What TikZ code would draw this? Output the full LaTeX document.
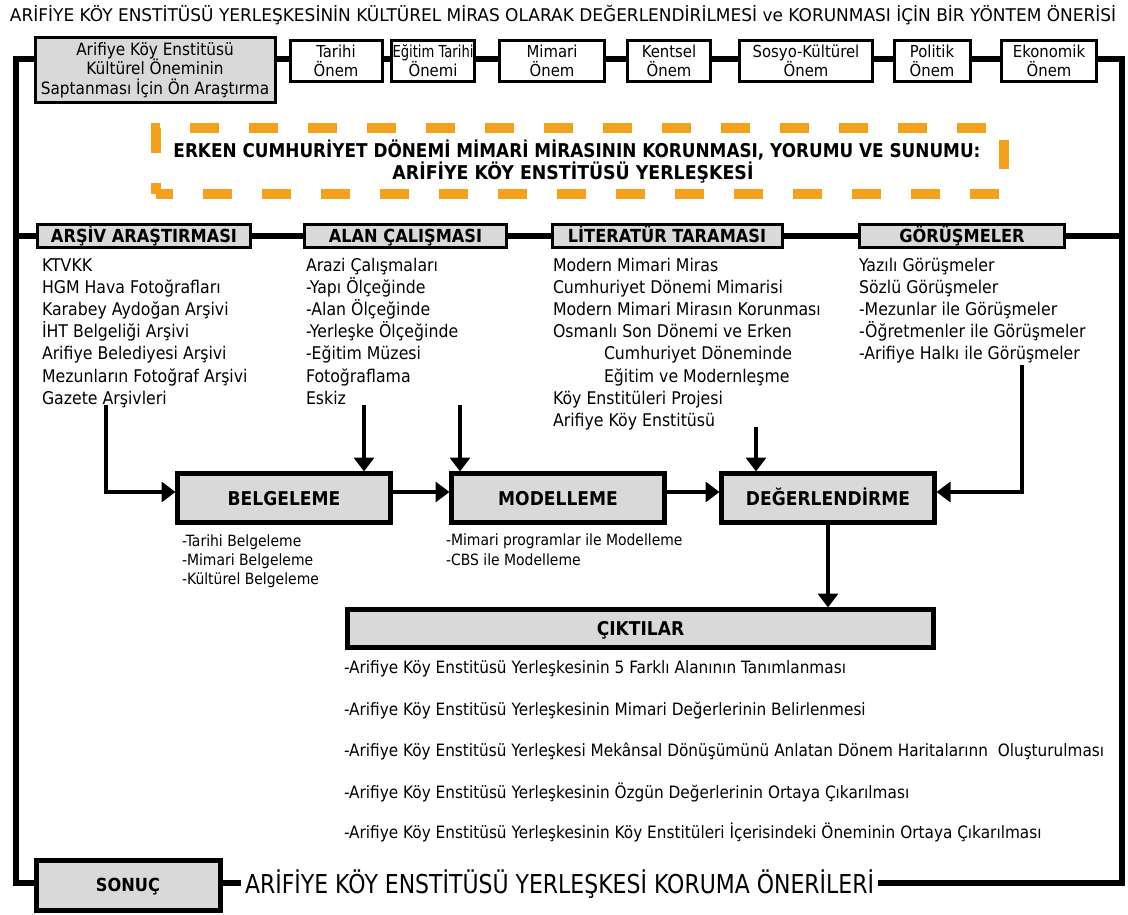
\documentclass[tikz,border=0pt]{standalone}
\usepackage{fontspec}
\setmainfont{DejaVu Sans}[FakeStretch=0.9]
\usepackage{graphicx}
\usetikzlibrary{arrows.meta}
\definecolor{boxgray}{RGB}{217,217,217}
\definecolor{dashorange}{RGB}{246,161,27}
\newcommand{\fitw}[2]{\resizebox{#1}{\height}{#2}}
\newcommand{\fs}[1]{\fontsize{#1}{#1}\selectfont}
\newcommand{\fsl}[2]{\fontsize{#1}{#2}\selectfont}
\begin{document}
\begin{tikzpicture}[x=1pt,y=-1pt,
  every node/.style={inner sep=0pt, outer sep=0pt},
  frame/.style={line width=6.5pt, line join=miter},
  arr/.style={line width=3.5pt, line join=miter, shorten >=2pt, -{Triangle[length=14pt,width=20pt]}},
  topbox/.style={draw, line width=3pt, fill=white, align=center, font=\fsl{16.5}{19}, minimum height=41pt},
  hdrbox/.style={draw, line width=3pt, fill=boxgray, font=\bfseries\fs{18}, minimum height=23pt, text height=16pt, text depth=2pt},
  bigbox/.style={draw, line width=5pt, fill=boxgray, font=\bfseries\fs{19}, minimum width=213pt, minimum height=49pt, text height=14pt, text depth=0pt},
  item/.style={anchor=base west, font=\fs{17.5}},
  subitem/.style={anchor=base west, font=\fs{15.5}},
  outitem/.style={anchor=base west, font=\fs{17}},
  dashbox/.style={draw=dashorange, line width=10pt, dash pattern=on 29pt off 30pt, dash phase=12pt},
]
\useasboundingbox (0,0) rectangle (1128,915);
\fill[white] (0,0) rectangle (1128,915);

% title
\node[anchor=base, font=\fs{17.5}] (title) at (563,22) {\fitw{1106pt}{ARİFİYE KÖY ENSTİTÜSÜ YERLEŞKESİNİN KÜLTÜREL MİRAS OLARAK DEĞERLENDİRİLMESİ ve KORUNMASI İÇİN BİR YÖNTEM ÖNERİSİ}};

% frame coordinates
\coordinate (tl) at (16,59);
\coordinate (tr) at (1122,59);
\coordinate (hl) at (16,236);
\coordinate (hr) at (1122,236);
\coordinate (bl) at (16,883);
\coordinate (br) at (1122,883);

% top row
\node[topbox, fill=boxgray, minimum width=240pt, minimum height=65pt, font=\fsl{17}{19.5}] (b1) at (155,70) {Arifiye Köy Enstitüsü\\Kültürel Öneminin\\Saptanması İçin Ön Araştırma};
\node[topbox, minimum width=92pt] (tar) at (336,61) {Tarihi\\Önem};
\node[topbox, minimum width=83pt] (egt) at (433,61) {\fitw{81pt}{Eğitim Tarihi}\\Önemi};
\node[topbox, minimum width=105pt] (mim) at (552,61) {Mimari\\Önem};
\node[topbox, minimum width=83pt] (ken) at (669,61) {Kentsel\\Önem};
\node[topbox, minimum width=133pt] (sos) at (806,61) {Sosyo-Kültürel\\Önem};
\node[topbox, minimum width=76pt] (pol) at (932,61) {Politik\\Önem};
\node[topbox, minimum width=95pt] (eko) at (1049,61) {Ekonomik\\Önem};

% dashed theme box
\node[dashbox, minimum width=848pt, minimum height=66pt] (theme) at (580,161) {};
\node[anchor=base, font=\bfseries\fs{19}] (t1) at (577,158) {\fitw{807pt}{ERKEN CUMHURİYET DÖNEMİ MİMARİ MİRASININ KORUNMASI, YORUMU VE SUNUMU:}};
\node[anchor=base, font=\bfseries\fs{19}] (t2) at (573,180) {\fitw{361pt}{ARİFİYE KÖY ENSTİTÜSÜ YERLEŞKESİ}};

% header row
\node[hdrbox, minimum width=213pt] (ars) at (144,236) {ARŞİV ARAŞTIRMASI};
\node[hdrbox, minimum width=202pt] (alan) at (405.5,236) {ALAN ÇALIŞMASI};
\node[hdrbox, minimum width=230pt] (lit) at (667,236) {LİTERATÜR TARAMASI};
\node[hdrbox, minimum width=205pt] (gor) at (962,236) {GÖRÜŞMELER};

% lists
\foreach \t [count=\i] in {KTVKK, HGM Hava Fotoğrafları, Karabey Aydoğan Arşivi, İHT Belgeliği Arşivi, Arifiye Belediyesi Arşivi, Mezunların Fotoğraf Arşivi, Gazete Arşivleri}
  \node[item] (ca\i) at (42,{271+22.2*(\i-1)}) {\t};
\foreach \t [count=\i] in {Arazi Çalışmaları, -Yapı Ölçeğinde, -Alan Ölçeğinde, -Yerleşke Ölçeğinde, -Eğitim Müzesi, Fotoğraflama, Eskiz}
  \node[item] (cb\i) at (306,{271+22.2*(\i-1)}) {\t};
\foreach \t/\xx [count=\i] in {Modern Mimari Miras/553, Cumhuriyet Dönemi Mimarisi/553, Modern Mimari Mirasın Korunması/553, Osmanlı Son Dönemi ve Erken/553, Cumhuriyet Döneminde/604, Eğitim ve Modernleşme/604, Köy Enstitüleri Projesi/553, Arifiye Köy Enstitüsü/553}
  \node[item] (cc\i) at (\xx,{271+22.2*(\i-1)}) {\t};
\foreach \t [count=\i] in {Yazılı Görüşmeler, Sözlü Görüşmeler, -Mezunlar ile Görüşmeler, -Öğretmenler ile Görüşmeler, -Arifiye Halkı ile Görüşmeler}
  \node[item] (cd\i) at (859,{271+22.2*(\i-1)}) {\t};

% process boxes
\node[bigbox] (bel) at (284,498) {BELGELEME};
\node[bigbox] (mod) at (558,498) {MODELLEME};
\node[bigbox] (deg) at (828,498) {DEĞERLENDİRME};

\node[subitem] (sb1) at (182,546) {-Tarihi Belgeleme};
\node[subitem] (sb2) at (182,565) {-Mimari Belgeleme};
\node[subitem] (sb3) at (182,584) {-Kültürel Belgeleme};
\node[subitem] (sm1) at (446,545) {-Mimari programlar ile Modelleme};
\node[subitem] (sm2) at (446,565) {-CBS ile Modelleme};

% outputs
\node[draw, line width=5pt, fill=boxgray, font=\bfseries\fs{19}, minimum width=586pt, minimum height=38pt, text height=14pt, text depth=0pt] (cik) at (640.5,628.5) {ÇIKTILAR};
\node[outitem] (o1) at (344,673) {-Arifiye Köy Enstitüsü Yerleşkesinin 5 Farklı Alanının Tanımlanması};
\node[outitem] (o2) at (344,715) {-Arifiye Köy Enstitüsü Yerleşkesinin Mimari Değerlerinin Belirlenmesi};
\node[outitem] (o3) at (344,756) {\fitw{760pt}{-Arifiye Köy Enstitüsü Yerleşkesi Mekânsal Dönüşümünü Anlatan Dönem Haritalarınn\ \ Oluşturulması}};
\node[outitem] (o4) at (344,798) {-Arifiye Köy Enstitüsü Yerleşkesinin Özgün Değerlerinin Ortaya Çıkarılması};
\node[outitem] (o5) at (344,838) {-Arifiye Köy Enstitüsü Yerleşkesinin Köy Enstitüleri İçerisindeki Öneminin Ortaya Çıkarılması};

% conclusion
\node[draw, line width=5pt, fill=boxgray, font=\bfseries\fs{18}, minimum width=184pt, minimum height=50pt, text height=13pt, text depth=0pt] (son) at (128,885) {SONUÇ};
\node[anchor=base west, inner sep=4pt, font=\fs{26}] (kor) at (241,893) {\fitw{629pt}{ARİFİYE KÖY ENSTİTÜSÜ YERLEŞKESİ KORUMA ÖNERİLERİ}};

% frame lines
\draw[frame] (b1.west |- tl) -- (tl) -- (bl) -- (son.west |- bl);
\draw[frame] (eko.east |- tr) -- (tr) -- (br) -- (kor.east |- br);
\draw[frame] (son.east |- bl) -- (kor.west |- bl);
\draw[frame] (b1.east |- tl) -- (tar.west |- tl);
\draw[frame] (tar.east |- tl) -- (egt.west |- tl);
\draw[frame] (egt.east |- tl) -- (mim.west |- tl);
\draw[frame] (mim.east |- tl) -- (ken.west |- tl);
\draw[frame] (ken.east |- tl) -- (sos.west |- tl);
\draw[frame] (sos.east |- tl) -- (pol.west |- tl);
\draw[frame] (pol.east |- tl) -- (eko.west |- tl);
\draw[frame] (hl) -- (ars.west |- hl);
\draw[frame] (ars.east |- hl) -- (alan.west |- hl);
\draw[frame] (alan.east |- hl) -- (lit.west |- hl);
\draw[frame] (lit.east |- hl) -- (gor.west |- hl);
\draw[frame] (gor.east |- hr) -- (hr);

% arrows
\coordinate (j) at (106,492);
\coordinate (s1) at (106,405);
\coordinate (s2) at (364,405);
\coordinate (s3) at (460,405);
\coordinate (s4) at (756,427);
\coordinate (s5) at (1022,365);
\draw[arr] (s1) |- (bel.west |- j);
\draw[arr] (s2) -- (s2 |- bel.north);
\draw[arr] (s3) -- (s3 |- mod.north);
\draw[arr] (s4) -- (s4 |- deg.north);
\draw[arr] (s5) |- (deg.east |- j);
\draw[arr] (bel.east |- j) -- (mod.west |- j);
\draw[arr] (mod.east |- j) -- (deg.west |- j);
\draw[arr] (deg.south) -- (cik.north -| deg.south);
\end{tikzpicture}
\end{document}
